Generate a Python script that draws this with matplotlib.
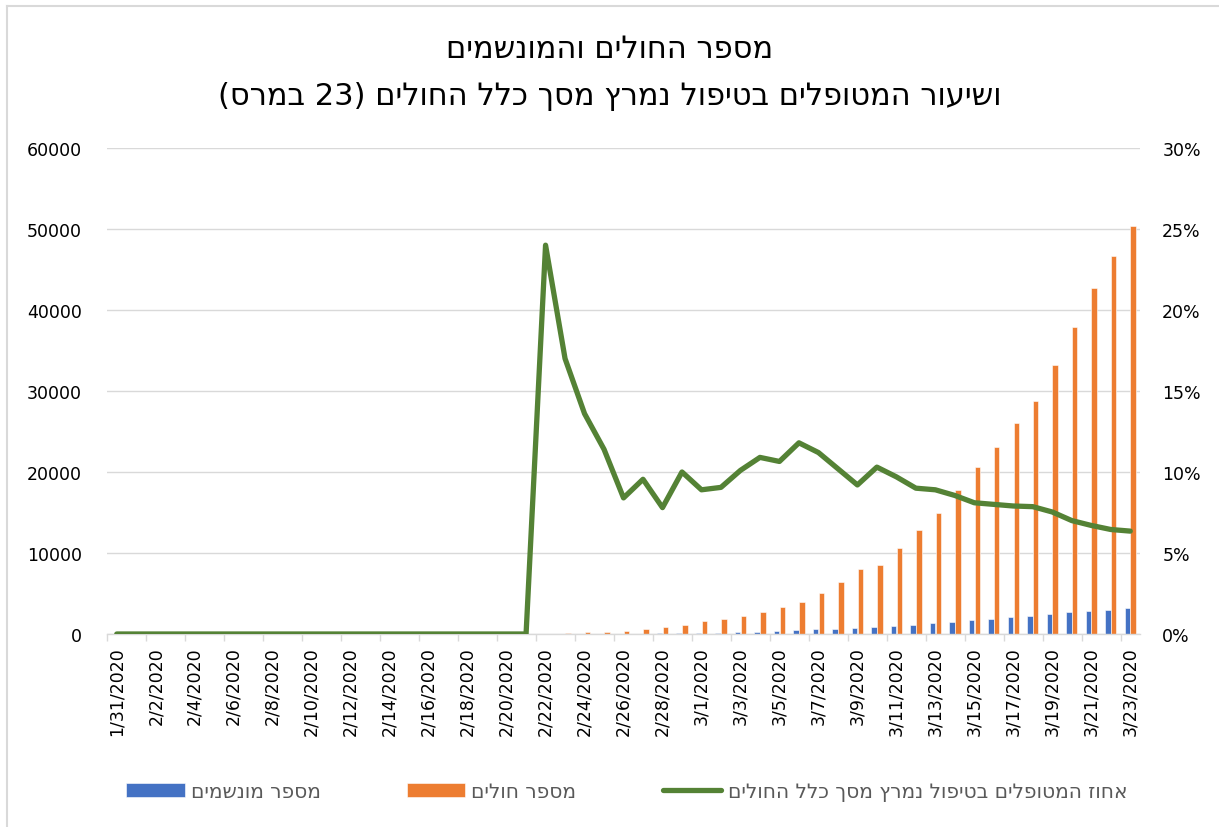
import re
import numpy as np
import pandas as pd
import matplotlib
matplotlib.use('Agg')
import matplotlib.pyplot as plt
from matplotlib.lines import Line2D
from matplotlib.ticker import FuncFormatter

plt.rcParams['font.family'] = ['DejaVu Sans']

# dates 1/31/2020 .. 3/23/2020
dates = pd.date_range('2020-01-31', '2020-03-23')
date_labels = [f'{d.month}/{d.day}/{d.year}' for d in dates]

# 1/31 .. 2/21 : nothing
zeros = [0] * 22
# 2/22 .. 3/23
sick = zeros + [60, 140, 210, 300, 380, 588, 821, 1049,
                1577, 1835, 2263, 2706, 3296, 3916, 5061, 6387, 7985, 8514,
                10590, 12839, 14955, 17750, 20603, 23073, 26062, 28710, 33190, 37860,
                42681, 46638, 50418]
vent = zeros + [14, 24, 29, 34, 32, 56, 64, 105,
                140, 166, 229, 295, 351, 462, 567, 650, 733, 877,
                1028, 1153, 1328, 1518, 1672, 1851, 2060, 2257, 2498, 2655,
                2857, 3009, 3204]
icu_pct = zeros + [24.0, 17.0, 13.6, 11.4, 8.4, 9.55, 7.8, 10.0,
                   8.9, 9.05, 10.1, 10.9, 10.65, 11.8, 11.2, 10.2, 9.2, 10.3,
                   9.7, 9.0, 8.9, 8.55, 8.1, 8.0, 7.9, 7.86, 7.53, 7.0,
                   6.7, 6.45, 6.35]

title_l1 = 'מספר החולים והמונשמים'
title_l2 = 'ושיעור המטופלים בטיפול נמרץ מסך כלל החולים (23 במרס)'
lbl_vent = 'מספר מונשמים'
lbl_sick = 'מספר חולים'
lbl_pct = 'אחוז המטופלים בטיפול נמרץ מסך כלל החולים'


def rtl(s):
    # matplotlib draws left to right, so put hebrew in visual order
    r = s[::-1].translate(str.maketrans('()', ')('))
    return re.sub(r'\d+', lambda m: m.group(0)[::-1], r)


blue = '#4472C4'
orange = '#ED7D31'
green = '#548235'
grid_c = '#D9D9D9'

fig = plt.figure(figsize=(12.19, 8.28), dpi=100)
ax = fig.add_axes([0.0878, 0.2331, 0.8474, 0.5870])
ax2 = ax.twinx()

x = np.arange(len(dates))
w = 0.28
ax.bar(x - 0.15, vent, w, color=blue, edgecolor='white', linewidth=0.4, label=rtl(lbl_vent))
ax.bar(x + 0.15, sick, w, color=orange, edgecolor='white', linewidth=0.4, label=rtl(lbl_sick))
ax2.plot(x, icu_pct, color=green, lw=3.8, solid_joinstyle='round', solid_capstyle='round',
         label=rtl(lbl_pct))

ax.set_xlim(-0.5, 52.5)
ax.set_ylim(0, 60000)
ax.set_yticks(np.arange(0, 60001, 10000))
ax2.set_ylim(0, 30)
ax2.set_yticks(np.arange(0, 31, 5))
ax2.yaxis.set_major_formatter(FuncFormatter(lambda v, p: f'{v:.0f}%'))

ax.set_axisbelow(True)
ax.grid(axis='y', color=grid_c, lw=1)
for a in (ax, ax2):
    for s in a.spines.values():
        s.set_visible(False)
ax.spines['bottom'].set_visible(True)
ax.spines['bottom'].set_color(grid_c)
ax.spines['bottom'].set_linewidth(1)

ax.set_xticks(x[::2])
ax.set_xticklabels(date_labels[::2], rotation=90, fontsize=12.5)
ax.set_xticks(np.arange(-0.5, 53, 2), minor=True)
ax.tick_params(axis='x', which='major', length=0, pad=9)
ax.tick_params(axis='x', which='minor', length=5, color=grid_c, width=1)
ax.tick_params(axis='y', length=0, labelsize=12.5, pad=18)
ax2.tick_params(axis='y', length=0, labelsize=12.5, pad=16)

fig.text(0.5, 0.940, rtl(title_l1), ha='center', va='center', fontsize=22)
fig.text(0.5, 0.883, rtl(title_l2), ha='center', va='center', fontsize=22)

h1, l1 = ax.get_legend_handles_labels()
h2, l2 = ax2.get_legend_handles_labels()
fig.legend(h1 + h2, l1 + l2, loc='center', bbox_to_anchor=(0.514, 0.0423), ncol=3,
           frameon=False, fontsize=14.5, labelcolor='#595959', handlelength=2.9,
           handletextpad=0.3, columnspacing=4.3)

# chart border (top and left only visible)
fig.add_artist(Line2D([7 / 1219, 1], [1 - 7 / 828, 1 - 7 / 828], color=grid_c, lw=1.5))
fig.add_artist(Line2D([7 / 1219, 7 / 1219], [0, 1 - 7 / 828], color=grid_c, lw=1.5))

fig.savefig('out.png', dpi=100)
